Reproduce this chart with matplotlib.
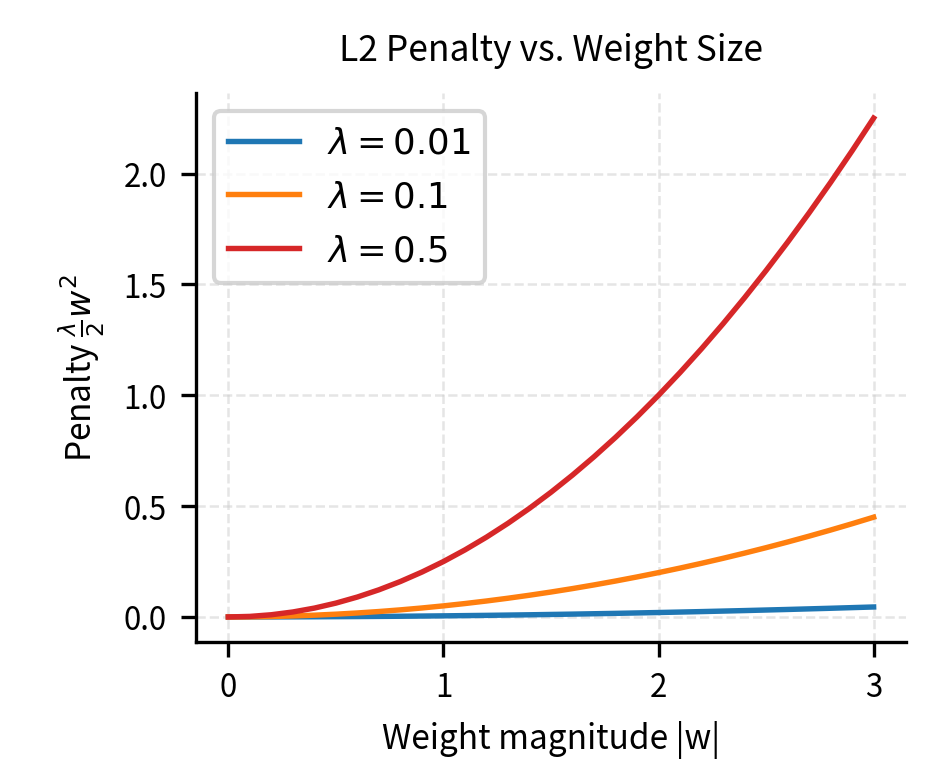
import matplotlib
matplotlib.use("Agg")
import matplotlib.pyplot as plt

plt.rcParams["font.family"] = ["Noto Sans CJK KR", "DejaVu Sans"]

# values at 0.1 steps of |w|
weights = [0.0, 0.1, 0.2, 0.3, 0.4, 0.5, 0.6, 0.7, 0.8, 0.9, 1.0,
           1.1, 1.2, 1.3, 1.4, 1.5, 1.6, 1.7, 1.8, 1.9, 2.0,
           2.1, 2.2, 2.3, 2.4, 2.5, 2.6, 2.7, 2.8, 2.9, 3.0]
pen_05 = [0.0, 0.0025, 0.01, 0.0225, 0.04, 0.0625, 0.09, 0.1225, 0.16, 0.2025, 0.25,
          0.3025, 0.36, 0.4225, 0.49, 0.5625, 0.64, 0.7225, 0.81, 0.9025, 1.0,
          1.1025, 1.21, 1.3225, 1.44, 1.5625, 1.69, 1.8225, 1.96, 2.1025, 2.25]
pen_01 = [0.0, 0.0005, 0.002, 0.0045, 0.008, 0.0125, 0.018, 0.0245, 0.032, 0.0405, 0.05,
          0.0605, 0.072, 0.0845, 0.098, 0.1125, 0.128, 0.1445, 0.162, 0.1805, 0.2,
          0.2205, 0.242, 0.2645, 0.288, 0.3125, 0.338, 0.3645, 0.392, 0.4205, 0.45]
pen_001 = [0.0, 0.0001, 0.0002, 0.0005, 0.0008, 0.0013, 0.0018, 0.0025, 0.0032, 0.0041, 0.005,
           0.0061, 0.0072, 0.0085, 0.0098, 0.0113, 0.0128, 0.0145, 0.0162, 0.0181, 0.02,
           0.0221, 0.0242, 0.0265, 0.0288, 0.0313, 0.0338, 0.0365, 0.0392, 0.0421, 0.045]

SERIES = [
    (pen_001, r"$\lambda = 0.01$", "#1f77b4"),
    (pen_01, r"$\lambda = 0.1$", "#ff7f0e"),
    (pen_05, r"$\lambda = 0.5$", "#d62728"),
]

fig, ax = plt.subplots(figsize=(3.113, 2.613), dpi=300)
for vals, label, color in SERIES:
    ax.plot(weights, vals, color=color, linewidth=1.3, label=label)

ax.set_title("L2 Penalty vs. Weight Size", fontsize=8.5, pad=8)
ax.set_xlabel("Weight magnitude |w|", fontsize=8)
ax.set_ylabel(r"Penalty $\frac{\lambda}{2}w^2$", fontsize=8)
ax.set_xticks([0, 1, 2, 3])
ax.set_yticks([0.0, 0.5, 1.0, 1.5, 2.0])
ax.tick_params(labelsize=7.5)
ax.grid(True, linestyle="--", linewidth=0.6, alpha=0.5, color="#cccccc")
for s in ["top", "right"]:
    ax.spines[s].set_visible(False)
ax.legend(loc="upper left", fontsize=8.5, handlelength=2.0)

fig.subplots_adjust(left=0.21, right=0.97, top=0.88, bottom=0.18)
fig.savefig("out.png", dpi=300)
